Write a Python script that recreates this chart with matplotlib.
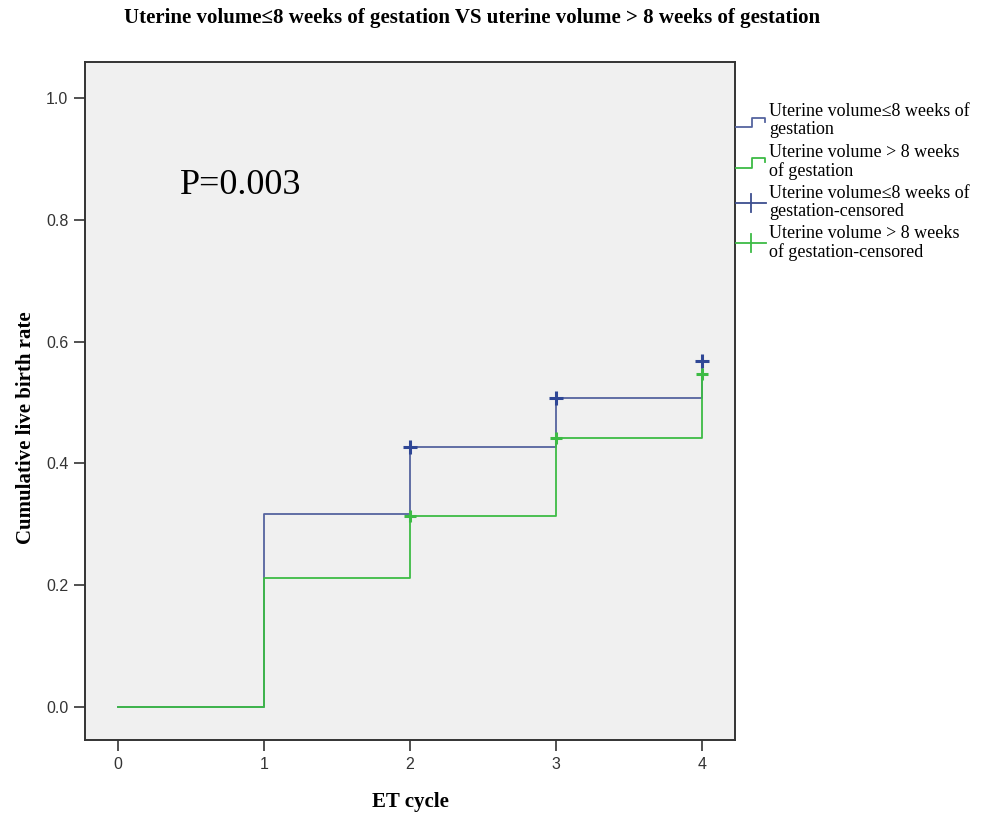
import matplotlib
matplotlib.use("Agg")
import matplotlib.pyplot as plt
from matplotlib.lines import Line2D

# Data
cycles = [0, 1, 2, 3, 4]
rate_le8 = [0.0, 0.317, 0.427, 0.507, 0.568]
rate_gt8 = [0.0, 0.212, 0.314, 0.442, 0.547]
cens_x = [2, 3, 4]
cens_le8 = [0.427, 0.507, 0.568]
cens_gt8 = [0.314, 0.442, 0.547]
xticks = [0, 1, 2, 3, 4]
yticks = [0.0, 0.2, 0.4, 0.6, 0.8, 1.0]
legend_labels = ["Uterine volume≤8 weeks of\ngestation",
                 "Uterine volume > 8 weeks\nof gestation",
                 "Uterine volume≤8 weeks of\ngestation-censored",
                 "Uterine volume > 8 weeks\nof gestation-censored"]

BLUE = "#55649f"
BLUE_M = "#2f4796"
GREEN = "#3dbb45"
SERIF = "Liberation Serif"
SANS = "Liberation Sans"

W, H = 988, 816
def fx(px): return px / W
def fy(py): return 1 - py / H

fig = plt.figure(figsize=(9.88, 8.16), dpi=100)
fig.patch.set_facecolor("white")
ax = fig.add_axes([85/988, 1-740/816, 650/988, 678/816])
ax.set_facecolor("#f0f0f0")

ax.step(cycles, rate_le8, where="post", color=BLUE, lw=1.3, zorder=2)
ax.step(cycles, rate_gt8, where="post", color=GREEN, lw=1.3, zorder=3)
ax.plot(cens_x, cens_le8, ls="none", marker="+", ms=10, mew=2.2, color=BLUE_M, zorder=4)
ax.plot(cens_x, cens_gt8, ls="none", marker="+", ms=8, mew=2.2, color=GREEN, zorder=5)

ax.set_xlim(-0.226, 4.226)
ax.set_ylim(-0.054, 1.059)
ax.set_xticks(xticks)
ax.set_yticks(yticks)
ax.set_xticklabels([str(v) for v in xticks], fontfamily=SANS, fontsize=11.5, color="#333333")
ax.set_yticklabels([f"{v:.1f}" for v in yticks], fontfamily=SANS, fontsize=11.5, color="#333333")
ax.tick_params(direction="out", length=8, width=1.2, color="#333333", pad=4)
for s in ax.spines.values():
    s.set_color("#333333")
    s.set_linewidth(1.4)

fig.text(fx(410), fy(802), "ET cycle", fontfamily=SERIF, fontweight="bold", fontsize=15,
         ha="center", va="center")
fig.text(fx(26), fy(428), "Cumulative live birth rate", fontfamily=SERIF, fontweight="bold",
         fontsize=15, ha="center", va="center", rotation=90)

fig.text(fx(180), fy(185), "P=0.003", fontfamily=SERIF, fontsize=26, va="center", ha="left")

fig.text(fx(472), fy(18), "Uterine volume≤8 weeks of gestation VS uterine volume > 8 weeks of gestation",
         fontfamily=SERIF, fontweight="bold", fontsize=15, ha="center", va="center")

# Legend (manual)
tx = fx(769)
ys = [(127, 118), (168, 158)]
cols = [BLUE, GREEN]
for (y0, y1), c in zip(ys, cols):
    fig.add_artist(Line2D([fx(736), fx(752), fx(752), fx(765), fx(765)],
                          [fy(y0), fy(y0), fy(y1), fy(y1), fy(y1 + 4)],
                          color=c, lw=1.3, transform=fig.transFigure))
for yc, c in [(203, "#3d4e8f"), (243, GREEN)]:
    fig.add_artist(Line2D([fx(736), fx(766)], [fy(yc), fy(yc)], color=c, lw=1.3,
                          transform=fig.transFigure))
    fig.add_artist(Line2D([fx(751), fx(751)], [fy(yc - 9), fy(yc + 9)], color=c, lw=1.3,
                          transform=fig.transFigure))
for lab, yt in zip(legend_labels, [103, 144, 185, 225]):
    fig.text(tx, fy(yt), lab, fontfamily=SERIF, fontsize=13, ha="left", va="top",
             linespacing=1.1)

fig.savefig("out.png", dpi=100)
